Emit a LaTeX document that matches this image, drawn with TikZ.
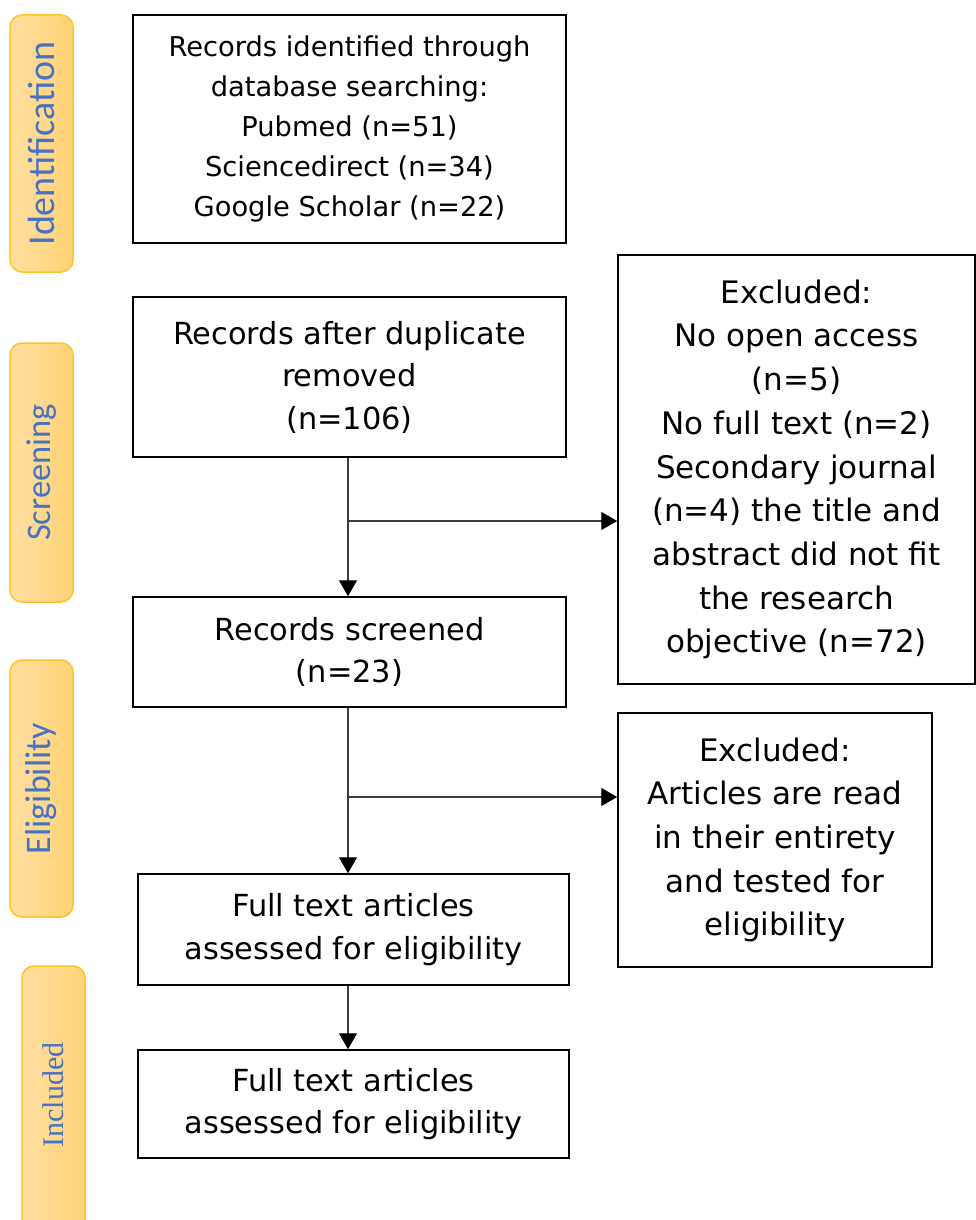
\documentclass[tikz,border=0pt]{standalone}
\usepackage{fontspec}
\usetikzlibrary{arrows.meta}
\newfontfamily\boxfont{DejaVu Sans}
\newfontfamily\lblfont{Carlito}
\newfontfamily\serlbl{Liberation Serif}
\definecolor{lblblue}{RGB}{68,114,196}
\definecolor{barL}{RGB}{255,223,160}
\definecolor{barR}{RGB}{255,210,118}
\definecolor{barD}{RGB}{255,196,40}
\definecolor{lineg}{RGB}{60,60,60}
\tikzset{
  box/.style={draw=black, line width=1.5pt, inner sep=0pt, align=center,
    font=\boxfont\fontsize{30.4}{42.5}\selectfont},
  exbox/.style={box, font=\boxfont\fontsize{31}{43.7}\selectfont},
  bar/.style={draw=barD, line width=1.5pt, rounded corners=12pt, left color=barL, right color=barR,
    minimum width=63pt, inner sep=0pt},
  lbl/.style={rotate=90, text=lblblue},
  arr/.style={draw=lineg, line width=1.3pt, -{Triangle[length=16pt,width=18pt,color=black]}}
}
\begin{document}
\begin{tikzpicture}[x=1pt,y=-1pt]
\useasboundingbox (0,0) rectangle (976,1220);
% side bars
\node[bar, minimum height=257pt] (bid) at (41.5,143.5) {};
\node[lbl, font=\lblfont\fontsize{38}{40}\selectfont] (lid) at (bid.center) {Identification};
\node[bar, minimum height=259pt] (bsc) at (41.5,472.5) {};
\node[lbl, font=\lblfont\fontsize{34.5}{40}\selectfont] (lsc) at (bsc.center) {Screening};
\node[bar, minimum height=257pt] (bel) at (41.5,788.5) {};
\node[lbl, font=\lblfont\fontsize{36}{40}\selectfont] (lel) at (bel.center) {Eligibility};
\node[bar, minimum height=270pt] (bin) at (53.5,1101) {};
\node[lbl, font=\serlbl\fontsize{30}{34}\selectfont] (lin) at (53.5,1095) {Included};
% boxes
\node[box, minimum width=433pt, minimum height=228pt, font=\boxfont\fontsize{27.3}{40}\selectfont] (b1) at (349.5,129)
  {Records identified through\\database searching:\\Pubmed (n=51)\\Sciencedirect (n=34)\\Google Scholar (n=22)};
\node[box, minimum width=433pt, minimum height=160pt] (b2) at (349.5,377)
  {Records after duplicate\\removed\\(n=106)};
\node[exbox, minimum width=357pt, minimum height=429pt] (ex1) at (796.5,469.5)
  {Excluded:\\No open access\\(n=5)\\No full text (n=2)\\Secondary journal\\(n=4) the title and\\abstract did not fit\\the research\\objective (n=72)};
\node[box, minimum width=433pt, minimum height=110pt] (b3) at (349.5,652)
  {Records screened\\(n=23)};
\node[exbox, minimum width=314pt, minimum height=254pt] (ex2) at (775,840)
  {Excluded:\\Articles are read\\in their entirety\\and tested for\\eligibility};
\node[box, minimum width=431pt, minimum height=111pt] (b4) at (353.5,929.5)
  {Full text articles\\assessed for eligibility};
\node[box, minimum width=431pt, minimum height=108pt] (b5) at (353.5,1104)
  {Full text articles\\assessed for eligibility};
% connectors
\coordinate (ax) at (348,0);
\coordinate (j1) at (348,521);
\coordinate (j2) at (348,797);
\draw[arr] (b2.south -| ax) -- (b3.north -| ax);
\draw[arr] (j1) -- (j1 -| ex1.west);
\draw[arr] (b3.south -| ax) -- (b4.north -| ax);
\draw[arr] (j2) -- (j2 -| ex2.west);
\draw[arr] (b4.south -| ax) -- (b5.north -| ax);
\end{tikzpicture}
\end{document}
